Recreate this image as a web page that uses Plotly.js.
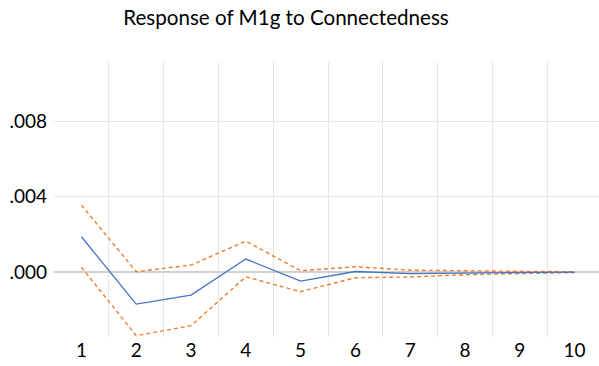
<!DOCTYPE html>
<html><head><meta charset="utf-8">
<script src="https://cdn.plot.ly/plotly-3.0.1.min.js"></script>
<style>html,body{margin:0;padding:0;overflow:hidden;background:#fff}</style>
</head><body>
<div id="chart"></div>
<script>
const periods = [1,2,3,4,5,6,7,8,9,10];
const response = [0.00187,-0.00170,-0.00122,0.00069,-0.00048,0.00003,-0.00008,-0.00004,-0.00002,0.00000];
const upperBand = [0.00355,0.00002,0.00037,0.00164,0.00007,0.00028,0.00010,0.00006,0.00004,0.00002];
const lowerBand = [0.00026,-0.00337,-0.00284,-0.00025,-0.00104,-0.00030,-0.00026,-0.00014,-0.00008,-0.00003];
const yTickVals = [0,0.004,0.008];
const yTickText = ['.000','.004','.008'];
const xGridVals = [1.5,2.5,3.5,4.5,5.5,6.5,7.5,8.5,9.5];

const font = "Lato, 'Open Sans', sans-serif";
const traces = [
  {x: periods, y: upperBand, mode:'lines', line:{color:'#ED7D31', width:1.4, dash:'4px,3px'}, hoverinfo:'skip'},
  {x: periods, y: lowerBand, mode:'lines', line:{color:'#ED7D31', width:1.4, dash:'4px,3px'}, hoverinfo:'skip'},
  {x: periods, y: response, mode:'lines', line:{color:'#4472C4', width:1.3}}
];
const layout = {
  width: 603, height: 366,
  margin:{l:54, r:1, t:62, b:29, pad:0},
  showlegend:false,
  paper_bgcolor:'#fff', plot_bgcolor:'#fff',
  title:{text:'Response of M1g to Connectedness', font:{family:font, size:20.6, color:'#000'},
         x:286/603, xanchor:'center', xref:'container', y:1-18/366, yanchor:'middle', yref:'container'},
  xaxis:{range:[0.5,10.5], tickvals:periods, ticktext:periods.map(String), showgrid:false,
         zeroline:false, showline:false, ticks:'', tickfont:{family:font, size:19, color:'#000'},
         minor:{tickvals:xGridVals, showgrid:true, gridcolor:'#e6e6e6', gridwidth:1, ticks:''}},
  yaxis:{range:[-0.00344,0.01113], tickvals:yTickVals, ticktext:yTickText, showgrid:true,
         gridcolor:'#e6e6e6', gridwidth:1, zeroline:true, zerolinecolor:'#d0d0d0', zerolinewidth:2,
         showline:false, ticks:'', ticklabelstandoff:6, tickfont:{family:font, size:19, color:'#000'}}
};
Plotly.newPlot('chart', traces, layout, {staticPlot:true, displayModeBar:false});
</script>
</body></html>
